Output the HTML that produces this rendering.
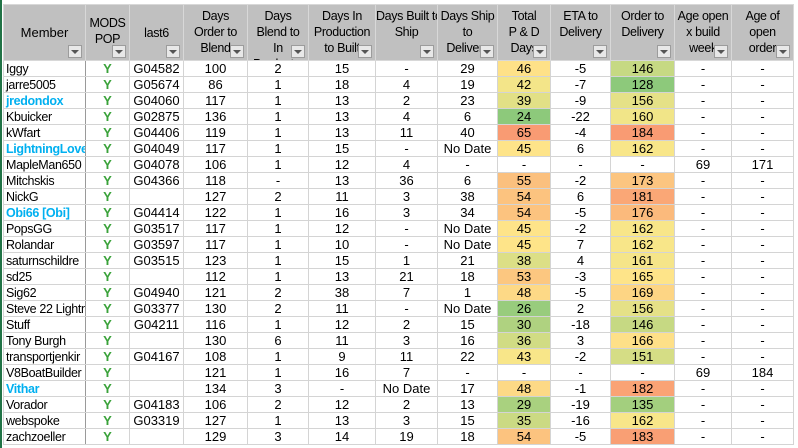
<!DOCTYPE html>
<html><head><style>
body{margin:0;width:798px;height:448px;overflow:hidden;background:#fff;font-family:"Liberation Sans",sans-serif;}
#t{position:absolute;left:3px;top:4px;width:790px;border-collapse:collapse;table-layout:fixed;font-size:13px;}
#t tr{height:16px;}
#t td{border:1px solid #d4d4d4;height:16px;padding:0;text-align:center;white-space:nowrap;overflow:hidden;color:#000;line-height:14px;box-sizing:border-box;}
#t td.m{text-align:left;padding-left:2px;border-right:1px solid #9a9a9a;font-size:12.5px;letter-spacing:-0.35px;}
#t tr.h{height:56px;}
#t tr.h td{background:#c0c0c0;height:56px;vertical-align:top;position:relative;border-color:#d8d8d8;font-size:12.5px;letter-spacing:-0.35px;padding:0;}
#t tr.h td.m{text-align:center;padding:0;font-size:13px;letter-spacing:0;}
#t tr.h td div{height:55px;overflow:hidden;line-height:16px;padding-top:3px;box-sizing:border-box;}
#t tr.h td.m div,#t tr.h td.c div{padding-top:20px;}
.fb{position:absolute;right:3px;bottom:2px;width:14px;height:13px;background:#e8e8e8;border:1px solid #9c9c9c;box-sizing:border-box;}
.fb:after{content:"";position:absolute;left:2px;top:4px;border-left:4px solid transparent;border-right:4px solid transparent;border-top:4px solid #555;}
#t td.y{color:#3aa23a;font-weight:bold;}
#top{position:absolute;left:0;top:0;width:798px;height:4px;background:#fff;}
#lg{position:absolute;left:0;top:0;width:2px;height:448px;background:#217346;}
</style></head><body>
<div id="top"></div>
<table id="t"><colgroup>
<col style="width:82px"><col style="width:44px"><col style="width:54px"><col style="width:64px"><col style="width:61px"><col style="width:67px"><col style="width:62px"><col style="width:60px"><col style="width:53px"><col style="width:60px"><col style="width:64px"><col style="width:57px"><col style="width:62px">
</colgroup><tbody id="tb">
<tr class="h"><td class="m"><div>Member</div><span class="fb"></span></td><td><div style="padding-top:10px">MODS<br>POP</div><span class="fb"></span></td><td class="c"><div>last6</div><span class="fb"></span></td><td><div>Days<br>Order to<br>Blend</div><span class="fb"></span></td><td><div>Days<br>Blend to<br>In<br>Product...</div><span class="fb"></span></td><td><div>Days In<br>Production<br>to Built</div><span class="fb"></span></td><td><div>Days Built to<br>Ship</div><span class="fb"></span></td><td><div>Days Ship<br>to<br>Delivery</div><span class="fb"></span></td><td><div>Total<br>P &amp; D<br>Days</div><span class="fb"></span></td><td><div>ETA to<br>Delivery</div><span class="fb"></span></td><td><div>Order to<br>Delivery</div><span class="fb"></span></td><td><div>Age open<br>x build<br>week</div><span class="fb"></span></td><td><div>Age of<br>open<br>order</div><span class="fb"></span></td></tr>
</tbody></table>
<div id="lg"></div>
<script>
var D=[
["Iggy","","G04582",100,2,15,"-",29,46,-5,146,"-","-"],
["jarre5005","","G05674",86,1,18,4,19,42,-7,128,"-","-"],
["jredondox","b","G04060",117,1,13,2,23,39,-9,156,"-","-"],
["Kbuicker","","G02875",136,1,13,4,6,24,-22,160,"-","-"],
["kWfart","","G04406",119,1,13,11,40,65,-4,184,"-","-"],
["LightningLover","b","G04049",117,1,15,"-","No Date",45,6,162,"-","-"],
["MapleMan650","","G04078",106,1,12,4,"-","-","-","-",69,171],
["Mitchskis","","G04366",118,"-",13,36,6,55,-2,173,"-","-"],
["NickG","","",127,2,11,3,38,54,6,181,"-","-"],
["Obi66 [Obi]","b","G04414",122,1,16,3,34,54,-5,176,"-","-"],
["PopsGG","","G03517",117,1,12,"-","No Date",45,-2,162,"-","-"],
["Rolandar","","G03597",117,1,10,"-","No Date",45,7,162,"-","-"],
["saturnschildre","","G03515",123,1,15,1,21,38,4,161,"-","-"],
["sd25","","",112,1,13,21,18,53,-3,165,"-","-"],
["Sig62","","G04940",121,2,38,7,1,48,-5,169,"-","-"],
["Steve 22 Lightn","","G03377",130,2,11,"-","No Date",26,2,156,"-","-"],
["Stuff","","G04211",116,1,12,2,15,30,-18,146,"-","-"],
["Tony Burgh","","",130,6,11,3,16,36,3,166,"-","-"],
["transportjenkir","","G04167",108,1,9,11,22,43,-2,151,"-","-"],
["V8BoatBuilder","","",121,1,16,7,"-","-","-","-",69,184],
["Vithar","b","",134,3,"-","No Date",17,48,-1,182,"-","-"],
["Vorador","","G04183",106,2,12,2,13,29,-19,135,"-","-"],
["webspoke","","G03319",127,1,13,3,15,35,-16,162,"-","-"],
["zachzoeller","","",129,3,14,19,18,54,-5,183,"-","-"]];
function sc(v,mn,md,mx){var g=[141,201,123],y=[254,232,138],r=[249,155,115],a,b,t;
if(v<=md){a=g;b=y;t=(v-mn)/(md-mn);}else{a=y;b=r;t=(v-md)/(mx-md);}
t=Math.max(0,Math.min(1,t));return "rgb("+a.map(function(c,i){return Math.round(c+(b[i]-c)*t)}).join(",")+")";}
var h="";D.forEach(function(r){h+="<tr><td class='m'"+(r[1]?" style='color:#00b0f0;font-weight:bold'":"")+">"+r[0]+"</td><td class='y'>Y</td><td>"+r[2]+"</td>";
for(var i=3;i<13;i++){var s="";if(i==8&&typeof r[i]=="number")s=" style='background:"+sc(r[i],24,44,65)+"'";
if(i==10&&typeof r[i]=="number")s=" style='background:"+sc(r[i],128,164,184)+"'";h+="<td"+s+">"+r[i]+"</td>";}h+="</tr>";});
document.getElementById("tb").insertAdjacentHTML("beforeend",h);
</script>
</body></html>
